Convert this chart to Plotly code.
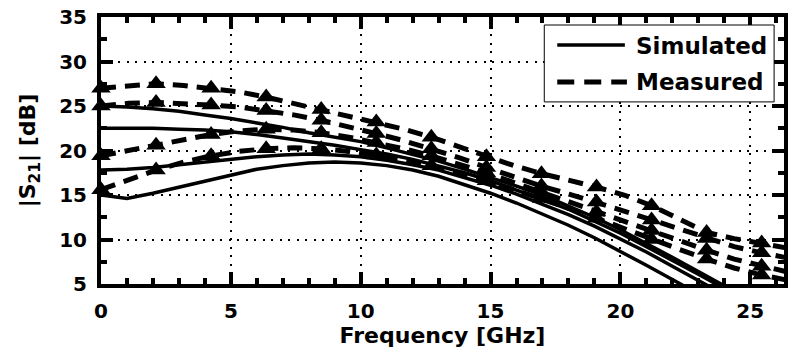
import plotly.graph_objects as go

# Frequency grids (GHz)
freq_sim = [0, 1, 2, 3, 4, 5, 6, 7, 8, 9, 10, 11, 12, 13, 14, 15, 16, 17, 18, 19, 20,
            21, 22, 23, 24, 25, 26]
freq_meas = [0, 1.06, 2.12, 3.18, 4.24, 5.3, 6.36, 7.42, 8.48, 9.54, 10.6, 11.66, 12.72,
             13.78, 14.84, 15.9, 16.96, 18.02, 19.08, 20.14, 21.2, 22.26, 23.32, 24.38,
             25.44, 26.5]

# Simulated |S21| in dB
sim_1 = [25.0, 24.9, 24.7, 24.4, 24.0, 23.6, 23.1, 22.6, 22.0, 21.5, 21.0, 20.3, 19.6,
         18.8, 17.9, 17.0, 16.0, 15.0, 13.8, 12.5, 11.1, 9.6, 8.0, 6.4, 4.8, 3.2, 1.6]
sim_2 = [22.5, 22.5, 22.5, 22.4, 22.3, 22.1, 21.8, 21.4, 21.0, 20.6, 20.1, 19.6, 19.0,
         18.3, 17.5, 16.6, 15.6, 14.5, 13.4, 12.1, 10.7, 9.2, 7.7, 6.1, 4.5, 2.9, 1.3]
sim_3 = [17.8, 17.9, 18.1, 18.4, 18.7, 19.0, 19.3, 19.5, 19.6, 19.5, 19.3, 18.9, 18.4,
         17.8, 17.0, 16.1, 15.1, 14.0, 12.8, 11.5, 10.1, 8.6, 7.0, 5.4, 3.8, 2.2, 0.6]
sim_4 = [15.0, 14.6, 15.2, 15.9, 16.6, 17.3, 17.9, 18.3, 18.6, 18.7, 18.6, 18.3, 17.8,
         17.1, 16.2, 15.2, 14.1, 12.9, 11.6, 10.2, 8.7, 7.1, 5.5, 3.9, 2.3, 0.7, -0.9]

# Measured |S21| in dB
meas_1 = [27.0, 27.3, 27.5, 27.3, 27.0, 26.6, 26.0, 25.3, 24.6, 23.9, 23.2, 22.4, 21.5,
          20.4, 19.3, 18.3, 17.4, 16.7, 15.9, 15.0, 13.8, 12.3, 10.8, 10.1, 9.6, 9.0]
meas_2 = [25.0, 25.3, 25.4, 25.3, 25.1, 24.9, 24.5, 24.0, 23.4, 22.7, 21.9, 21.1, 20.2,
          19.2, 18.1, 17.0, 16.0, 15.1, 14.2, 13.2, 12.2, 11.2, 10.1, 9.2, 8.5, 7.9]
meas_3 = [19.4, 20.0, 20.6, 21.2, 21.8, 22.2, 22.4, 22.3, 22.0, 21.5, 20.9, 20.2, 19.4,
          18.5, 17.5, 16.4, 15.3, 14.2, 13.1, 12.0, 11.0, 9.9, 8.8, 7.8, 7.0, 6.3]
meas_4 = [15.6, 16.7, 17.8, 18.7, 19.4, 19.9, 20.2, 20.3, 20.2, 19.9, 19.5, 19.0, 18.3,
          17.5, 16.6, 15.6, 14.6, 13.5, 12.4, 11.2, 10.0, 8.9, 7.8, 6.8, 6.0, 5.4]

x_ticks = [0, 5, 10, 15, 20, 25]
y_ticks = [5, 10, 15, 20, 25, 30, 35]

FONT = "DejaVu Sans"
fig = go.Figure()

for ys in (sim_1, sim_2, sim_3, sim_4):
    fig.add_trace(go.Scatter(x=freq_sim, y=ys, mode="lines",
                             line=dict(color="black", width=3.5),
                             showlegend=False, hoverinfo="skip"))

for ys in (meas_1, meas_2, meas_3, meas_4):
    fig.add_trace(go.Scatter(x=freq_meas, y=ys, mode="lines",
                             line=dict(color="black", width=5, dash="15px,9px"),
                             showlegend=False, hoverinfo="skip"))
    # triangle marker on every second measured sample
    fig.add_trace(go.Scatter(x=freq_meas[::2], y=ys[::2], mode="markers",
                             marker=dict(symbol="triangle-up", size=17, color="black"),
                             cliponaxis=False, showlegend=False, hoverinfo="skip"))

axis_common = dict(
    showline=True, linewidth=4, linecolor="black", mirror="ticks",
    ticks="inside", ticklen=12, tickwidth=4, tickcolor="black",
    showgrid=True, gridcolor="black", gridwidth=2, griddash="2px,6.5px",
    zeroline=False,
    tickfont=dict(family=FONT, size=20, color="black", weight="bold"),
)

fig.update_xaxes(
    range=[0, 26.3], tickvals=x_ticks, ticklabelstandoff=6,
    minor=dict(dtick=1, ticks="inside", ticklen=6, tickwidth=4, tickcolor="black",
               showgrid=False),
    title=dict(text="Frequency [GHz]", standoff=6,
               font=dict(family=FONT, size=22, color="black", weight="bold")),
    **axis_common,
)
fig.update_yaxes(
    range=[5, 35], tickvals=y_ticks, ticklabelstandoff=6,
    minor=dict(dtick=2.5, ticks="inside", ticklen=6, tickwidth=4, tickcolor="black",
               showgrid=False),
    title=dict(text="|S<sub>21</sub>| [dB]", standoff=18,
               font=dict(family=FONT, size=22, color="black", weight="bold")),
    **axis_common,
)

# Legend box drawn in the upper right corner of the axes
shapes = [
    dict(type="rect", xref="paper", yref="paper", x0=0.649, x1=0.9855, y0=0.682, y1=0.970,
         line=dict(color="black", width=1), fillcolor="white", layer="above"),
    dict(type="line", xref="paper", yref="paper", x0=0.668, x1=0.767, y0=0.895, y1=0.895,
         line=dict(color="black", width=3.5), layer="above"),
    dict(type="line", xref="paper", yref="paper", x0=0.668, x1=0.770, y0=0.757, y1=0.757,
         line=dict(color="black", width=5, dash="17px,10px"), layer="above"),
]
annotations = [
    dict(text="Simulated", xref="paper", yref="paper", x=0.780, y=0.893,
         xanchor="left", yanchor="middle", showarrow=False,
         font=dict(family=FONT, size=23, color="black", weight="bold")),
    dict(text="Measured", xref="paper", yref="paper", x=0.780, y=0.757,
         xanchor="left", yanchor="middle", showarrow=False,
         font=dict(family=FONT, size=23, color="black", weight="bold")),
]

fig.update_layout(
    width=788, height=355,
    margin=dict(l=101, r=0, t=17, b=71),
    paper_bgcolor="white", plot_bgcolor="white",
    shapes=shapes, annotations=annotations,
    showlegend=False,
)

fig.write_html("out.html")
